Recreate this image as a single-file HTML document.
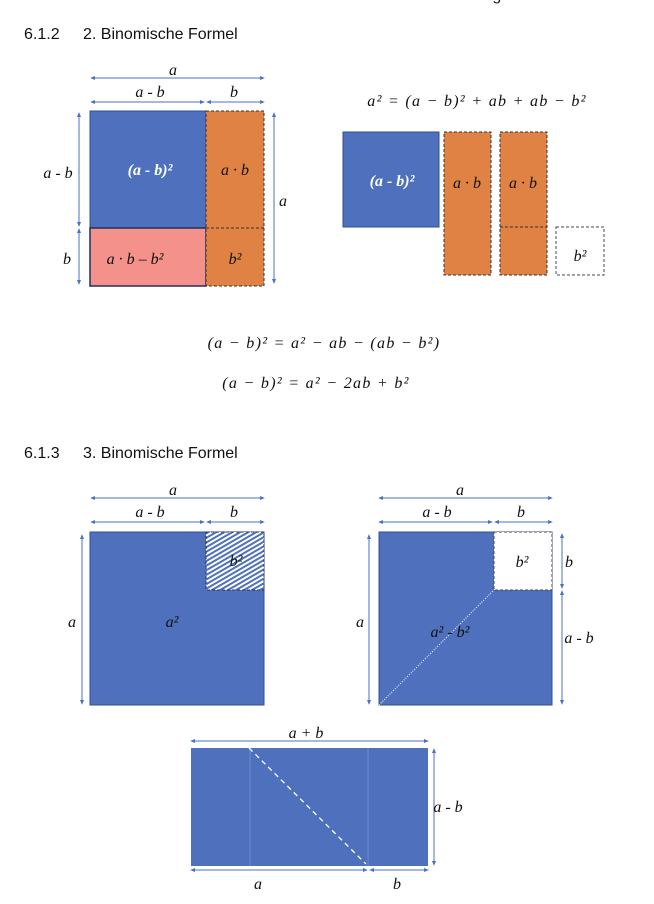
<!DOCTYPE html>
<html><head><meta charset="utf-8"><style>
html,body{margin:0;padding:0;background:#fff;}
svg{display:block;}
.h{font-family:"Liberation Sans",sans-serif;font-size:16px;fill:#111;}
.m{font-family:"Liberation Serif",serif;font-style:italic;font-size:16px;fill:#111;}
.e{font-family:"Liberation Serif",serif;font-style:italic;font-size:16px;fill:#111;letter-spacing:1.3px;}
</style></head><body>
<svg width="654" height="904" viewBox="0 0 654 904" xmlns="http://www.w3.org/2000/svg">
<defs>
<marker id="ar" viewBox="0 0 6 6" refX="5" refY="3" markerWidth="5" markerHeight="5" orient="auto-start-reverse"><path d="M0,0.5 L6,3 L0,5.5z" fill="#4a72c4"/></marker>
<pattern id="hat" width="4" height="4" patternUnits="userSpaceOnUse" patternTransform="rotate(60)"><rect width="4" height="4" fill="#fff"/><rect width="2" height="4" fill="#4f71bd"/></pattern>
</defs>
<text x="230" y="0" class="h" font-size="12">Basics für die Mittelstufe – Das Übungsbuch</text>
<text x="24" y="39" class="h">6.1.2</text><text x="83" y="39" class="h">2. Binomische Formel</text>
<g stroke="#4a72c4" stroke-width="1" fill="none">
<line x1="91" y1="78" x2="264" y2="78" marker-start="url(#ar)" marker-end="url(#ar)"/>
<line x1="91" y1="102" x2="204" y2="102" marker-start="url(#ar)" marker-end="url(#ar)"/>
<line x1="207" y1="102" x2="264" y2="102" marker-start="url(#ar)" marker-end="url(#ar)"/>
<line x1="79" y1="113" x2="79" y2="226" marker-start="url(#ar)" marker-end="url(#ar)"/>
<line x1="79" y1="229" x2="79" y2="284" marker-start="url(#ar)" marker-end="url(#ar)"/>
<line x1="274" y1="113" x2="274" y2="283" marker-start="url(#ar)" marker-end="url(#ar)"/>
</g>
<rect x="90" y="111" width="116" height="117" fill="#4f71bd" stroke="#2f4f8f"/>
<rect x="90" y="228" width="116" height="58" fill="#f4918a" stroke="#1f2f5f" stroke-width="1.5"/>
<rect x="206" y="111" width="58" height="175" fill="#e08244" stroke="#333" stroke-dasharray="3,2"/>
<line x1="206" y1="228" x2="264" y2="228" stroke="#333" stroke-dasharray="3,2"/>
<text x="173" y="75" class="m" text-anchor="middle">a</text>
<text x="150" y="97" class="m" text-anchor="middle">a - b</text>
<text x="234" y="97" class="m" text-anchor="middle">b</text>
<text x="58" y="178" class="m" text-anchor="middle">a - b</text>
<text x="67" y="264" class="m" text-anchor="middle">b</text>
<text x="283" y="206" class="m" text-anchor="middle">a</text>
<text x="150" y="175" class="m" text-anchor="middle" style="fill:#fff;font-weight:bold">(a - b)²</text>
<text x="235" y="175" class="m" text-anchor="middle">a · b</text>
<text x="135" y="264" class="m" text-anchor="middle">a · b – b²</text>
<text x="235" y="264" class="m" text-anchor="middle">b²</text>
<text x="477" y="106" class="e" text-anchor="middle">a² = (a − b)² + ab + ab  − b²</text>
<rect x="343" y="132" width="96" height="95" fill="#4f71bd" stroke="#2f4f8f"/>
<rect x="444" y="132" width="47" height="143" fill="#e08244" stroke="#333" stroke-dasharray="3,2"/>
<rect x="500" y="132" width="47" height="143" fill="#e08244" stroke="#333" stroke-dasharray="3,2"/>
<line x1="500" y1="227" x2="547" y2="227" stroke="#333" stroke-dasharray="3,2"/>
<rect x="556" y="227" width="48" height="48" fill="#fff" stroke="#445" stroke-dasharray="3,2"/>
<text x="392" y="186" class="m" text-anchor="middle" style="fill:#fff;font-weight:bold">(a - b)²</text>
<text x="467" y="188" class="m" text-anchor="middle">a · b</text>
<text x="523" y="188" class="m" text-anchor="middle">a · b</text>
<text x="580" y="261" class="m" text-anchor="middle">b²</text>
<text x="324" y="348" class="e" text-anchor="middle">(a − b)² = a² − ab − (ab − b²)</text>
<text x="316" y="388" class="e" text-anchor="middle">(a − b)² = a² − 2ab + b²</text>
<text x="24" y="458" class="h">6.1.3</text><text x="83" y="458" class="h">3. Binomische Formel</text>
<g stroke="#4a72c4" stroke-width="1" fill="none">
<line x1="91" y1="498" x2="264" y2="498" marker-start="url(#ar)" marker-end="url(#ar)"/>
<line x1="91" y1="522" x2="204" y2="522" marker-start="url(#ar)" marker-end="url(#ar)"/>
<line x1="207" y1="522" x2="264" y2="522" marker-start="url(#ar)" marker-end="url(#ar)"/>
<line x1="82" y1="535" x2="82" y2="704" marker-start="url(#ar)" marker-end="url(#ar)"/>
<line x1="379" y1="498" x2="552" y2="498" marker-start="url(#ar)" marker-end="url(#ar)"/>
<line x1="379" y1="522" x2="492" y2="522" marker-start="url(#ar)" marker-end="url(#ar)"/>
<line x1="495" y1="522" x2="552" y2="522" marker-start="url(#ar)" marker-end="url(#ar)"/>
<line x1="369" y1="535" x2="369" y2="704" marker-start="url(#ar)" marker-end="url(#ar)"/>
<line x1="562" y1="534" x2="562" y2="588" marker-start="url(#ar)" marker-end="url(#ar)"/>
<line x1="562" y1="591" x2="562" y2="704" marker-start="url(#ar)" marker-end="url(#ar)"/>
<line x1="191" y1="741" x2="428" y2="741" marker-start="url(#ar)" marker-end="url(#ar)"/>
<line x1="434" y1="749" x2="434" y2="865" marker-start="url(#ar)" marker-end="url(#ar)"/>
<line x1="191" y1="870" x2="367" y2="870" marker-start="url(#ar)" marker-end="url(#ar)"/>
<line x1="370" y1="870" x2="428" y2="870" marker-start="url(#ar)" marker-end="url(#ar)"/>
</g>
<rect x="90" y="532" width="174" height="173" fill="#4f71bd" stroke="#2f4f8f"/>
<rect x="206" y="532" width="58" height="58" fill="url(#hat)" stroke="#334" stroke-dasharray="3,2"/>
<text x="173" y="495" class="m" text-anchor="middle">a</text>
<text x="150" y="517" class="m" text-anchor="middle">a - b</text>
<text x="234" y="517" class="m" text-anchor="middle">b</text>
<text x="72" y="627" class="m" text-anchor="middle">a</text>
<text x="172" y="627" class="m" text-anchor="middle">a²</text>
<text x="236" y="566" class="m" text-anchor="middle">b²</text>
<rect x="379" y="532" width="173" height="173" fill="#4f71bd" stroke="#2f4f8f"/>
<rect x="494" y="532" width="58" height="58" fill="#fff" stroke="#445" stroke-dasharray="3,2"/>
<line x1="379" y1="705" x2="494" y2="590" stroke="#fff" stroke-dasharray="1,1.5"/>
<text x="460" y="495" class="m" text-anchor="middle">a</text>
<text x="437" y="517" class="m" text-anchor="middle">a - b</text>
<text x="521" y="517" class="m" text-anchor="middle">b</text>
<text x="360" y="627" class="m" text-anchor="middle">a</text>
<text x="450" y="637" class="m" text-anchor="middle">a² - b²</text>
<text x="522" y="567" class="m" text-anchor="middle">b²</text>
<text x="569" y="567" class="m" text-anchor="middle">b</text>
<text x="579" y="643" class="m" text-anchor="middle">a - b</text>
<rect x="191" y="748" width="237" height="118" fill="#4f71bd"/>
<line x1="250" y1="748" x2="250" y2="866" stroke="#7d95d0" stroke-width="0.7"/>
<line x1="368" y1="748" x2="368" y2="866" stroke="#7d95d0" stroke-width="0.7"/>
<line x1="249" y1="748" x2="366" y2="864" stroke="#fff" stroke-width="1.3" stroke-dasharray="5,4"/>
<text x="306" y="738" class="m" text-anchor="middle">a + b</text>
<text x="448" y="812" class="m" text-anchor="middle">a - b</text>
<text x="258" y="889" class="m" text-anchor="middle">a</text>
<text x="397" y="889" class="m" text-anchor="middle">b</text>
</svg>
</body></html>
